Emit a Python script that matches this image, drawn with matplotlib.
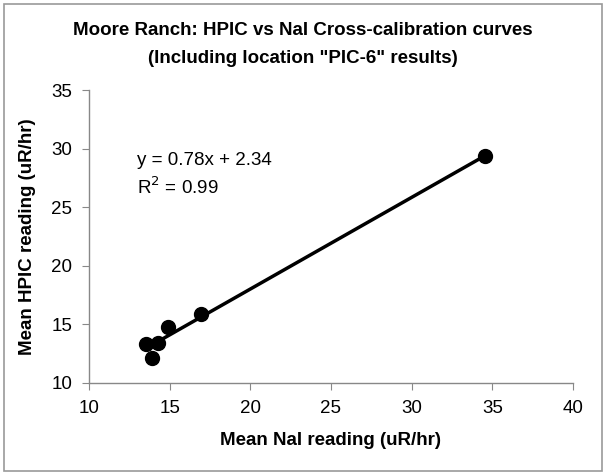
import numpy as np
import matplotlib.pyplot as plt
from matplotlib.patches import Rectangle

plt.rcParams['font.family'] = ['Liberation Sans', 'DejaVu Sans']

# Mean readings (uR/hr)
nai = [13.54, 14.30, 13.89, 14.92, 16.93, 34.56]
hpic = [13.31, 13.44, 12.11, 14.76, 15.87, 29.34]

eq_text = "y = 0.78x + 2.34"
r2_text = "R$^2$ = 0.99"

fig = plt.figure(figsize=(6.06, 4.75), dpi=100)
ax = fig.add_axes([0.1469, 0.1937, 0.7986, 0.6168])

# linear fit through the points
m, b = np.polyfit(nai, hpic, 1)
xs = np.array([min(nai), max(nai)])
ax.plot(xs, m * xs + b, color='black', lw=2.5, zorder=2)
ax.plot(nai, hpic, 'o', color='black', ms=10, zorder=3)

ax.set_xlim(10, 40)
ax.set_ylim(10, 35)
ax.set_xticks(range(10, 41, 5))
ax.set_yticks(range(10, 36, 5))
for s in ['top', 'right']:
    ax.spines[s].set_visible(False)
for s in ['left', 'bottom']:
    ax.spines[s].set_color('#888888')
    ax.spines[s].set_linewidth(1)
ax.tick_params(direction='out', length=5, color='#888888', labelsize=13.5, pad=7)

ax.set_xlabel("Mean NaI reading (uR/hr)", fontsize=13.5, fontweight='bold', labelpad=11)
ax.set_ylabel("Mean HPIC reading (uR/hr)", fontsize=13.5, fontweight='bold', labelpad=11)

ax.text(0.1, 0.761, eq_text, transform=ax.transAxes, fontsize=13.5, va='center')
ax.text(0.1, 0.669, r2_text, transform=ax.transAxes, fontsize=13.5, va='center')

fig.text(0.5, 0.935, 'Moore Ranch: HPIC vs NaI Cross-calibration curves',
         ha='center', va='center', fontsize=13.5, fontweight='bold')
fig.text(0.5, 0.877, '(Including location "PIC-6" results)',
         ha='center', va='center', fontsize=13.5, fontweight='bold')

fig.patches.append(Rectangle((0.006, 0.008), 0.988, 0.984, transform=fig.transFigure,
                             fill=False, edgecolor='#999999', lw=1.2))

plt.savefig("out.png", dpi=100)
plt.close()
